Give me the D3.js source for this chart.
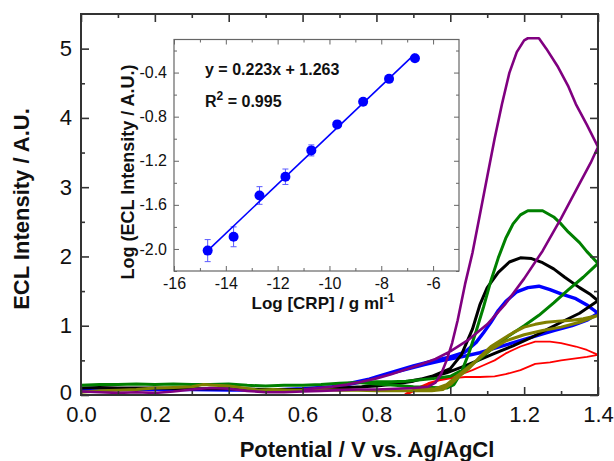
<!DOCTYPE html>
<html>
<head>
<meta charset="utf-8">
<script src="https://cdn.jsdelivr.net/npm/d3@7"></script>
<style>
  body { margin: 0; background: #fff; }
  svg { display: block; font-family: Arial, "Liberation Sans", sans-serif; }
</style>
</head>
<body>
<div id="main"></div>
<script>
"use strict";

// ECL curves: [potential (V), intensity (A.U.)], forward scan then reverse
const purpleCurve = [[0,0.05],[0.05,0.04],[0.1,0.03],[0.15,0.04],[0.2,0.03],[0.25,0.05],[0.3,0.08],[0.35,0.1],[0.4,0.09],[0.45,0.06],[0.5,0.04],[0.55,0.04],[0.6,0.05],[0.65,0.06],[0.7,0.07],[0.75,0.08],[0.8,0.08],[0.85,0.09],[0.9,0.1],[0.94,0.12],[0.96,0.18],[0.975,0.3],[0.99,0.5],[1.005,0.75],[1.02,1.08],[1.04,1.6],[1.06,2.05],[1.08,2.6],[1.1,3.15],[1.12,3.7],[1.14,4.2],[1.16,4.65],[1.18,4.95],[1.2,5.12],[1.21,5.15],[1.24,5.15],[1.26,5.0],[1.29,4.75],[1.32,4.45],[1.34,4.2],[1.37,3.9],[1.4,3.58],
  [1.38,3.35],[1.35,3.05],[1.3,2.55],[1.25,2.08],[1.2,1.68],[1.15,1.32],[1.1,1.02],[1.05,0.8],[1.0,0.63],[0.96,0.52],[0.92,0.44],[0.88,0.37],[0.84,0.3],[0.8,0.24],[0.76,0.19],[0.72,0.15],[0.68,0.12],[0.64,0.1],[0.6,0.08]];

const greenCurve = [[0,0.14],[0.05,0.15],[0.1,0.15],[0.15,0.16],[0.2,0.15],[0.25,0.16],[0.3,0.15],[0.35,0.15],[0.4,0.16],[0.45,0.14],[0.5,0.13],[0.55,0.14],[0.6,0.14],[0.65,0.15],[0.7,0.17],[0.75,0.18],[0.8,0.16],[0.85,0.14],[0.9,0.12],[0.95,0.11],[0.99,0.1],[1.01,0.15],[1.03,0.33],[1.05,0.6],[1.07,0.92],[1.09,1.27],[1.11,1.65],[1.13,1.98],[1.15,2.26],[1.17,2.47],[1.19,2.6],[1.21,2.66],[1.25,2.66],[1.28,2.57],[1.3,2.47],[1.32,2.35],[1.35,2.2],[1.37,2.07],[1.4,1.9],
  [1.36,1.7],[1.32,1.52],[1.28,1.33],[1.24,1.15],[1.2,1.0],[1.16,0.86],[1.12,0.7],[1.08,0.52],[1.04,0.38],[1.0,0.27],[0.96,0.24],[0.92,0.22],[0.88,0.2],[0.84,0.19],[0.8,0.19],[0.75,0.18],[0.7,0.17]];

const blackCurve = [[0,0.1],[0.05,0.11],[0.1,0.1],[0.2,0.1],[0.3,0.09],[0.4,0.09],[0.5,0.08],[0.6,0.08],[0.7,0.1],[0.8,0.13],[0.85,0.16],[0.9,0.2],[0.95,0.27],[1.0,0.38],[1.03,0.58],[1.06,0.95],[1.08,1.3],[1.1,1.55],[1.13,1.77],[1.16,1.92],[1.19,1.98],[1.22,1.97],[1.25,1.91],[1.28,1.82],[1.31,1.7],[1.35,1.55],[1.38,1.45],[1.4,1.36],
  [1.35,1.18],[1.3,1.05],[1.26,0.94],[1.22,0.83],[1.17,0.71],[1.12,0.6],[1.08,0.51],[1.04,0.42],[0.99,0.32],[0.94,0.25],[0.88,0.19],[0.82,0.15],[0.76,0.12],[0.7,0.1]];

const blueCurve = [[0,0.08],[0.1,0.09],[0.2,0.08],[0.3,0.08],[0.4,0.07],[0.5,0.07],[0.6,0.09],[0.65,0.1],[0.7,0.13],[0.75,0.18],[0.8,0.26],[0.85,0.34],[0.9,0.42],[0.95,0.49],[1.0,0.55],[1.04,0.62],[1.07,0.76],[1.09,0.9],[1.11,1.05],[1.13,1.22],[1.15,1.35],[1.18,1.49],[1.21,1.55],[1.24,1.57],[1.27,1.52],[1.3,1.46],[1.34,1.39],[1.37,1.3],[1.4,1.18],
  [1.37,1.08],[1.33,1.0],[1.28,0.93],[1.23,0.85],[1.18,0.77],[1.13,0.69],[1.08,0.61],[1.03,0.55],[0.98,0.5],[0.93,0.44],[0.88,0.37],[0.83,0.3],[0.78,0.23],[0.73,0.17],[0.68,0.12],[0.6,0.09]];

const oliveCurve = [[0,0.04],[0.05,0.06],[0.1,0.07],[0.15,0.08],[0.2,0.1],[0.25,0.11],[0.3,0.12],[0.33,0.15],[0.36,0.14],[0.4,0.13],[0.44,0.1],[0.48,0.07],[0.52,0.08],[0.56,0.07],[0.6,0.07],[0.65,0.08],[0.7,0.07],[0.75,0.07],[0.8,0.06],[0.85,0.06],[0.9,0.06],[0.95,0.06],[0.98,0.08],[1.0,0.15],[1.02,0.25],[1.05,0.38],[1.08,0.55],[1.11,0.7],[1.14,0.8],[1.17,0.9],[1.2,0.98],[1.23,1.02],[1.26,1.05],[1.3,1.07],[1.33,1.08],[1.36,1.1],[1.4,1.15],
  [1.35,1.05],[1.3,0.98],[1.25,0.93],[1.2,0.87],[1.15,0.78],[1.1,0.62],[1.06,0.45],[1.02,0.28],[0.99,0.15],[0.96,0.09],[0.9,0.07]];

const redCurve = [[0.7,-0.06],[0.85,-0.05],[0.88,0.0],[0.91,0.08],[0.94,0.15],[0.97,0.21],[1.0,0.24],[1.04,0.26],[1.08,0.26],[1.12,0.27],[1.15,0.3],[1.19,0.36],[1.23,0.45],[1.27,0.47],[1.3,0.5],[1.34,0.53],[1.37,0.55],[1.4,0.58],
  [1.37,0.65],[1.34,0.7],[1.3,0.75],[1.27,0.77],[1.23,0.77],[1.19,0.7],[1.15,0.6],[1.12,0.5],[1.09,0.43],[1.06,0.36],[1.03,0.3],[1.0,0.26],[0.97,0.22],[0.94,0.17],[0.91,0.1],[0.88,0.02],[0.86,-0.06]];

// inset calibration data
const logCrp = [-14.7, -13.7, -12.7, -11.7, -10.7, -9.7, -8.7, -7.7, -6.7];
const logEcl = [-2.015, -1.89, -1.515, -1.345, -1.106, -0.87, -0.664, -0.457, -0.27];
const eclErr = [0.1, 0.09, 0.08, 0.07, 0.05, 0.03, 0.02, 0.02, 0.02];
const fitSlope = 0.223;
const fitIntercept = 1.263;

const xTicks = [0, 0.2, 0.4, 0.6, 0.8, 1.0, 1.2, 1.4];
const yTicks = [0, 1, 2, 3, 4, 5];
const insetXTicks = [-16, -14, -12, -10, -8, -6];
const insetYTicks = [-2.0, -1.6, -1.2, -0.8, -0.4];

const series = [
    { data: blueCurve, color: "#0000ff", width: 3.4 },
    { data: blackCurve, color: "#000000", width: 3 },
    { data: redCurve, color: "#ff0000", width: 1.8 },
    { data: greenCurve, color: "#008000", width: 3 },
    { data: oliveCurve, color: "#808000", width: 3 },
    { data: purpleCurve, color: "#800080", width: 2.6 }
];

function main() {
    const width = 614, height = 461;
    const svg = d3.select("#main").append("svg")
        .attr("width", width).attr("height", height);

    const x = d3.scaleLinear().domain([0, 1.4]).range([81, 598]);
    const y = d3.scaleLinear().domain([0, 5.5]).range([395, 14]);

    svg.append("clipPath").attr("id", "plotClip")
        .append("rect").attr("x", 81).attr("y", 14).attr("width", 517).attr("height", 381);

    // curves
    const line = d3.line().x(d => x(d[0])).y(d => y(d[1])).curve(d3.curveLinear);
    svg.append("g").attr("clip-path", "url(#plotClip)")
        .selectAll("path")
        .data(series)
        .join("path")
        .attr("d", d => line(d.data))
        .attr("fill", "none")
        .attr("stroke", d => d.color)
        .attr("stroke-width", d => d.width)
        .attr("stroke-linejoin", "round");

    // main axes (ticks inward on all sides)
    const axisColor = "#333";
    const xMinor = d3.range(0.1, 1.4, 0.2);
    const yMinor = d3.range(0.5, 5.5, 1);
    const bottom = svg.append("g").attr("transform", "translate(0,395)");
    bottom.call(d3.axisBottom(x).tickValues(xTicks).tickSize(-8).tickPadding(11).tickFormat(d => d.toFixed(1)));
    bottom.append("g").call(d3.axisBottom(x).tickValues(xMinor).tickSize(-4).tickFormat(""));
    const top = svg.append("g").attr("transform", "translate(0,14)");
    top.call(d3.axisTop(x).tickValues(xTicks).tickSize(-8).tickFormat(""));
    top.append("g").call(d3.axisTop(x).tickValues(xMinor).tickSize(-4).tickFormat(""));
    const left = svg.append("g").attr("transform", "translate(81,0)");
    left.call(d3.axisLeft(y).tickValues(yTicks).tickSize(-8).tickPadding(9).tickFormat(d => String(d)));
    left.append("g").call(d3.axisLeft(y).tickValues(yMinor).tickSize(-4).tickFormat(""));
    const right = svg.append("g").attr("transform", "translate(598,0)");
    right.call(d3.axisRight(y).tickValues(yTicks).tickSize(-8).tickFormat(""));
    right.append("g").call(d3.axisRight(y).tickValues(yMinor).tickSize(-4).tickFormat(""));

    [bottom, top, left, right].forEach(g => {
        g.selectAll(".domain").remove();
        g.selectAll("line").attr("stroke", axisColor).attr("stroke-width", 1.6);
        g.selectAll("text").attr("font-size", 22).attr("fill", "#111")
            .attr("font-family", "Arial, 'Liberation Sans', sans-serif");
    });
    // the "0" on the y axis sits a little above the x labels
    left.selectAll(".tick text").filter(d => d === 0).attr("dy", "0.2em");
    svg.append("rect").attr("x", 81).attr("y", 14).attr("width", 517).attr("height", 381)
        .attr("fill", "none").attr("stroke", axisColor).attr("stroke-width", 2);

    svg.append("text")
        .attr("transform", "translate(29,209) rotate(-90)")
        .attr("text-anchor", "middle")
        .attr("font-size", 22).attr("font-weight", "bold").attr("fill", "#111")
        .text("ECL Intensity / A.U.");
    svg.append("text")
        .attr("x", 367).attr("y", 457)
        .attr("text-anchor", "middle")
        .attr("font-size", 22).attr("font-weight", "bold").attr("fill", "#111")
        .text("Potential / V vs. Ag/AgCl");

    drawInset(svg);
}

function drawInset(svg) {
    const ix = d3.scaleLinear().domain([-16, -5]).range([174, 459]);
    const iy = d3.scaleLinear().domain([-2.2, -0.1]).range([271, 39.5]);
    const boxColor = "#666";

    const g = svg.append("g");
    g.append("rect").attr("x", 174).attr("y", 39.5).attr("width", 285).attr("height", 231.5)
        .attr("fill", "#fff");

    const xMinor = d3.range(-15, -5, 2);
    const yMinor = [-2.2, -1.8, -1.4, -1.0, -0.6, -0.2];
    const b = g.append("g").attr("transform", "translate(0,271)");
    b.call(d3.axisBottom(ix).tickValues(insetXTicks).tickSize(-5).tickPadding(7).tickFormat(d => String(d)));
    b.append("g").call(d3.axisBottom(ix).tickValues(xMinor).tickSize(-3).tickFormat(""));
    const t = g.append("g").attr("transform", "translate(0,39.5)");
    t.call(d3.axisTop(ix).tickValues(insetXTicks).tickSize(-5).tickFormat(""));
    t.append("g").call(d3.axisTop(ix).tickValues(xMinor).tickSize(-3).tickFormat(""));
    const l = g.append("g").attr("transform", "translate(174,0)");
    l.call(d3.axisLeft(iy).tickValues(insetYTicks).tickSize(-5).tickPadding(7).tickFormat(d => d.toFixed(1)));
    l.append("g").call(d3.axisLeft(iy).tickValues(yMinor).tickSize(-3).tickFormat(""));
    const r = g.append("g").attr("transform", "translate(459,0)");
    r.call(d3.axisRight(iy).tickValues(insetYTicks).tickSize(-5).tickFormat(""));
    r.append("g").call(d3.axisRight(iy).tickValues(yMinor).tickSize(-3).tickFormat(""));

    [b, t, l, r].forEach(a => {
        a.selectAll(".domain").remove();
        a.selectAll("line").attr("stroke", boxColor).attr("stroke-width", 1);
        a.selectAll("text").attr("font-size", 16).attr("fill", "#111")
            .attr("font-family", "Arial, 'Liberation Sans', sans-serif");
    });
    g.append("rect").attr("x", 174).attr("y", 39.5).attr("width", 285).attr("height", 231.5)
        .attr("fill", "none").attr("stroke", boxColor).attr("stroke-width", 1.2);

    const pts = logCrp.map((c, i) => ({ x: c, y: logEcl[i], e: eclErr[i] }));

    // error bars
    const eb = g.append("g").attr("stroke", "#5a5aff").attr("stroke-width", 1);
    eb.selectAll(".v").data(pts).join("line")
        .attr("x1", d => ix(d.x)).attr("x2", d => ix(d.x))
        .attr("y1", d => iy(d.y - d.e)).attr("y2", d => iy(d.y + d.e));
    eb.selectAll(".capTop").data(pts).join("line")
        .attr("x1", d => ix(d.x) - 3).attr("x2", d => ix(d.x) + 3)
        .attr("y1", d => iy(d.y + d.e)).attr("y2", d => iy(d.y + d.e));
    eb.selectAll(".capBot").data(pts).join("line")
        .attr("x1", d => ix(d.x) - 3).attr("x2", d => ix(d.x) + 3)
        .attr("y1", d => iy(d.y - d.e)).attr("y2", d => iy(d.y - d.e));

    // fitted line
    const x0 = logCrp[0], x1 = logCrp[logCrp.length - 1];
    g.append("line")
        .attr("x1", ix(x0)).attr("y1", iy(fitSlope * x0 + fitIntercept))
        .attr("x2", ix(x1)).attr("y2", iy(fitSlope * x1 + fitIntercept))
        .attr("stroke", "#0000ff").attr("stroke-width", 1.6);

    g.selectAll("circle").data(pts).join("circle")
        .attr("cx", d => ix(d.x)).attr("cy", d => iy(d.y)).attr("r", 5)
        .attr("fill", "#0000ff");

    g.append("text").attr("x", 205).attr("y", 75)
        .attr("font-size", 16).attr("font-weight", "bold").attr("fill", "#111")
        .text("y = 0.223x + 1.263");
    const r2 = g.append("text").attr("x", 205).attr("y", 107)
        .attr("font-size", 16).attr("font-weight", "bold").attr("fill", "#111");
    r2.append("tspan").text("R");
    r2.append("tspan").attr("dy", -7).attr("font-size", 12).text("2");
    r2.append("tspan").attr("dy", 7).text(" = 0.995");

    g.append("text")
        .attr("transform", "translate(134,172) rotate(-90)")
        .attr("text-anchor", "middle")
        .attr("font-size", 18).attr("font-weight", "bold").attr("fill", "#111")
        .text("Log (ECL Intensity / A.U.)");
    const xt = g.append("text").attr("x", 323).attr("y", 309)
        .attr("text-anchor", "middle")
        .attr("font-size", 17).attr("font-weight", "bold").attr("fill", "#111");
    xt.append("tspan").text("Log [CRP] / g ml");
    xt.append("tspan").attr("dy", -7).attr("font-size", 12).text("-1");
}

main();
</script>
</body>
</html>
